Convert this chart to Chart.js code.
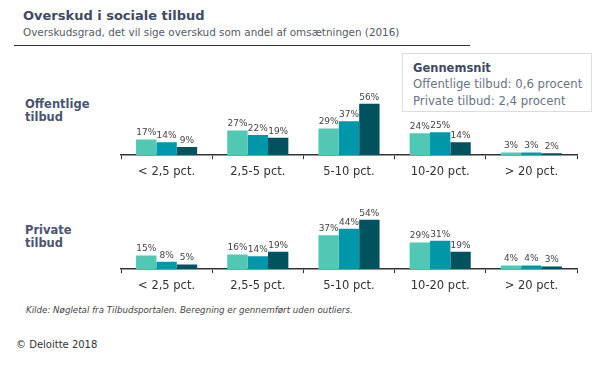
<!DOCTYPE html>
<html>
<head>
<meta charset="utf-8">
<script src="https://cdn.jsdelivr.net/npm/chart.js@4"></script>
<style>
  body { margin: 0; background: #fff; font-family: "DejaVu Sans", Verdana, sans-serif; }
  #page { position: relative; width: 607px; height: 365px; overflow: hidden; }
  .abs { position: absolute; white-space: nowrap; }
  #title { left: 23px; top: 8px; font-size: 13px; font-weight: bold; color: #3f4a63; }
  #subtitle { left: 23px; top: 26px; font-size: 10.4px; color: #555a66; }
  #rule { left: 14px; top: 45px; width: 456px; height: 0; border-top: 1px solid #333; }
  .grp { left: 25px; font-size: 11.5px; font-weight: bold; color: #4a5570; line-height: 13px; }
  #box { left: 402px; top: 53px; width: 188px; height: 57px; border: 1px solid #ddd; }
  #box div { position: absolute; left: 10px; font-size: 11.7px; color: #6a7384; }
  #src { left: 26px; top: 305px; font-size: 8.7px; font-style: italic; color: #444; }
  #copy { left: 16px; top: 339px; font-size: 10px; color: #333; }
  canvas { position: absolute; }
</style>
</head>
<body>
<div id="page">
  <div id="title" class="abs">Overskud i sociale tilbud</div>
  <div id="subtitle" class="abs">Overskudsgrad, det vil sige overskud som andel af omsætningen (2016)</div>
  <div id="rule" class="abs"></div>
  <div class="abs grp" style="top:98px">Offentlige<br>tilbud</div>
  <div class="abs grp" style="top:224px">Private<br>tilbud</div>
  <div id="box" class="abs">
    <div style="top:7px;font-weight:bold;color:#3f4a63;font-size:11.5px">Gennemsnit</div>
    <div style="top:23px">Offentlige tilbud: 0,6 procent</div>
    <div style="top:40px">Private tilbud: 2,4 procent</div>
  </div>
  <div style="position:absolute;left:115px;top:83px;width:475px;height:102px"><canvas id="chartTop"></canvas></div>
  <div style="position:absolute;left:115px;top:197px;width:475px;height:102px"><canvas id="chartBottom"></canvas></div>
  <div id="src" class="abs">Kilde: Nøgletal fra Tilbudsportalen. Beregning er gennemført uden outliers.</div>
  <div id="copy" class="abs">© Deloitte 2018</div>
</div>
<script>
var categories = ['< 2,5 pct.', '2,5-5 pct.', '5-10 pct.', '10-20 pct.', '> 20 pct.'];

// Offentlige tilbud, three series per category
var offentligeA = [17, 27, 29, 24, 3];
var offentligeB = [14, 22, 37, 25, 3];
var offentligeC = [9, 19, 56, 14, 2];

// Private tilbud
var privateA = [15, 16, 37, 29, 4];
var privateB = [8, 14, 44, 31, 4];
var privateC = [5, 19, 54, 19, 3];

var colours = ['#50c8b4', '#0097a9', '#00525e'];

// draw value labels on top of the bars
var valueLabels = {
  id: 'valueLabels',
  afterDatasetsDraw: function(chart) {
    var ctx = chart.ctx;
    ctx.save();
    ctx.font = '9px "DejaVu Sans", sans-serif';
    ctx.fillStyle = '#444';
    ctx.textAlign = 'center';
    ctx.textBaseline = 'bottom';
    chart.data.datasets.forEach(function(ds, i) {
      chart.getDatasetMeta(i).data.forEach(function(bar, j) {
        ctx.fillText(ds.data[j] + '%', bar.x, bar.y - 2);
      });
    });
    ctx.restore();
  }
};

function buildChart(id, a, b, c) {
  var sets = [a, b, c].map(function(d, i) {
    return { data: d, backgroundColor: colours[i], categoryPercentage: 0.67, barPercentage: 1.0 };
  });
  return new Chart(document.getElementById(id), {
    type: 'bar',
    data: { labels: categories, datasets: sets },
    options: {
      responsive: true,
      maintainAspectRatio: false,
      animation: false,
      layout: { padding: { top: 14, left: 6, right: 13, bottom: 0 } },
      plugins: { legend: { display: false }, tooltip: { enabled: false } },
      scales: {
        y: { display: false, min: 0, max: 63.5 },
        x: {
          border: { display: true, color: '#333', width: 1.5 },
          grid: { offset: true, drawOnChartArea: false, drawTicks: true, tickLength: 4, color: '#333' },
          ticks: { color: '#333', padding: 6, font: { family: 'DejaVu Sans', size: 11.5 } }
        }
      }
    },
    plugins: [valueLabels]
  });
}

buildChart('chartTop', offentligeA, offentligeB, offentligeC);
buildChart('chartBottom', privateA, privateB, privateC);
</script>
</body>
</html>
